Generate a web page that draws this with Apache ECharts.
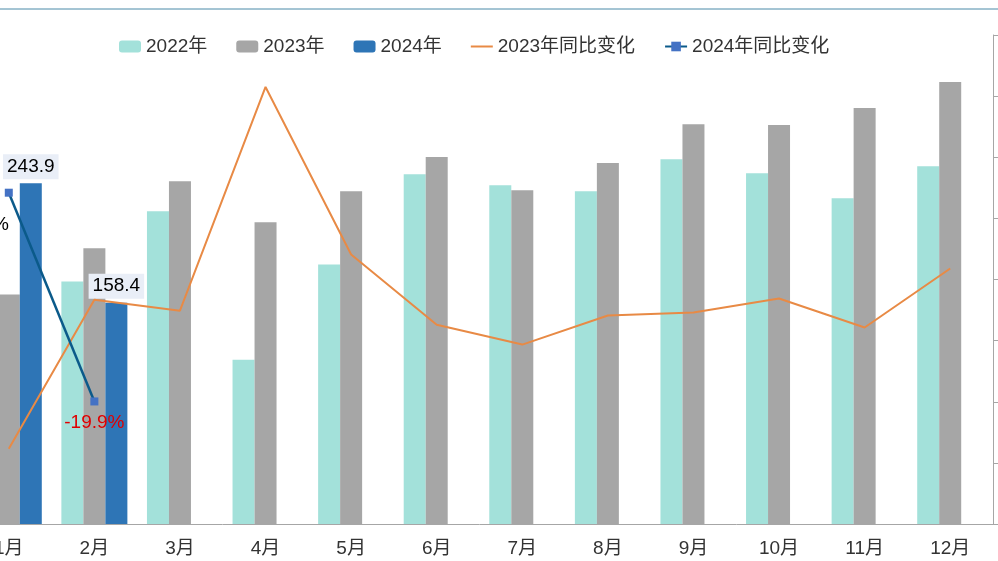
<!DOCTYPE html>
<html><head><meta charset="utf-8">
<script src="https://cdn.jsdelivr.net/npm/echarts@6/dist/echarts.min.js"></script>
<style>html,body{margin:0;padding:0;background:#fff;overflow:hidden}#c{width:1032px;height:561px;margin-left:-34px}</style>
</head><body><div id="c"></div>
<script>
const categories=['1月','2月','3月','4月','5月','6月','7月','8月','9月','10月','11月','12月'];
const s2022=[254,173.6,223.8,117.6,185.8,250.4,242.5,238.2,261.1,251.1,233.1,256.1];
const s2023=[164.3,197.3,245.3,215.9,238.2,262.6,238.9,258.3,286.2,285.5,297.7,316.4];
const s2024=[243.9,158.4,null,null,null,null,null,null,null,null,null,null];
const yoy2023=[-35.4,13.4,9.8,83,28.2,5.2,-1.3,8.2,9.2,13.8,4.3,23.6];
const yoy2024=[48.4,-19.9,null,null,null,null,null,null,null,null,null,null];
const chart=echarts.init(document.getElementById('c'));
const F='"Liberation Sans", Arial, "Noto Sans CJK SC", sans-serif';
chart.setOption({
  animation:false,
  textStyle:{fontFamily:F},
  legend:{top:32,left:148,itemGap:29,itemWidth:22,itemHeight:12,textStyle:{fontSize:19,color:'#333',fontFamily:F},
    data:['2022年','2023年','2024年',{name:'2023年同比变化',icon:'path://M0,5L22,5L22,7L0,7Z'},{name:'2024年同比变化'}]},
  graphic:[{type:'line',shape:{x1:0,y1:9,x2:1032,y2:9},style:{stroke:'#4a8aa8',lineWidth:1}}],
  grid:{left:0,right:5,top:35,bottom:37,containLabel:false},
  xAxis:{type:'category',data:categories,axisLine:{lineStyle:{color:'#a6a6a6'}},axisTick:{show:false},
    axisLabel:{fontSize:19,color:'#333',margin:15}},
  yAxis:[{type:'value',min:0,max:350,show:false,splitLine:{show:false}},
    {type:'value',min:-60,max:100,interval:20,position:'right',axisLine:{show:true,lineStyle:{color:'#a6a6a6'}},
      axisTick:{show:true,inside:false,length:5,lineStyle:{color:'#a6a6a6'}},axisLabel:{show:false},splitLine:{show:false}}],
  series:[
    {name:'2022年',type:'bar',data:s2022,barWidth:22,barGap:'0%',itemStyle:{color:'#a3e1da'}},
    {name:'2023年',type:'bar',data:s2023,barWidth:22,barGap:'0%',itemStyle:{color:'#a6a6a6'}},
    {name:'2024年',type:'bar',data:s2024,barWidth:22,barGap:'0%',itemStyle:{color:'#2e75b6'},
      label:{show:true,position:'top',distance:4,fontSize:19,color:'#000',backgroundColor:'#e9eef7',padding:[3,4],
        formatter:p=>p.value==null?'':p.value.toFixed(1)}},
    {name:'2023年同比变化',type:'line',yAxisIndex:1,data:yoy2023,symbol:'none',lineStyle:{color:'#e88a45',width:2},itemStyle:{color:'#e88a45'}},
    {name:'2024年同比变化',type:'line',yAxisIndex:1,symbol:'rect',symbolSize:8,
      lineStyle:{color:'#0b5a8a',width:2.5},itemStyle:{color:'#4472c4'},
      label:{show:true,fontSize:19,formatter:p=>p.value==null?'':p.value.toFixed(1)+'%'},
      data:yoy2024.map((v,i)=>i===0?{value:v,label:{position:'left',distance:6,color:'#000',offset:[10,32]}}:
        (i===1?{value:v,label:{position:'bottom',distance:8,color:'#e00000'}}:{value:v}))}
  ]
});
</script></body></html>
